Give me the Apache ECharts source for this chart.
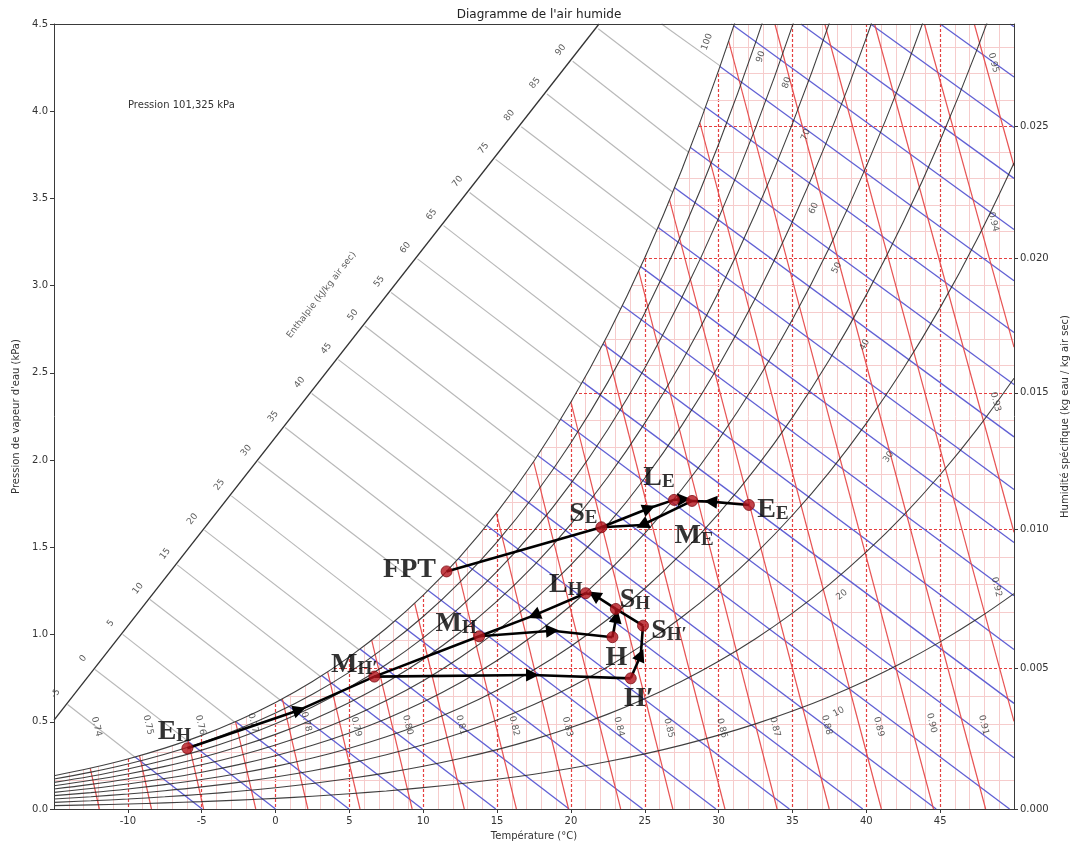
<!DOCTYPE html>
<html>
<head>
<meta charset="utf-8">
<title>Diagramme de l'air humide</title>
<script src="https://cdn.jsdelivr.net/npm/echarts@6/dist/echarts.min.js"></script>
<style>
  html, body { margin: 0; padding: 0; background: #fff; }
  #chart { width: 1078px; height: 848px; }
</style>
</head>
<body>
<div id="chart"></div>
<script>
// saturation curve (100 %), every 2.5 °C
const satTemps = [-15, -12.5, -10, -7.5, -5, -2.5, 0, 2.5, 5, 7.5, 10, 12.5, 15, 17.5, 20, 22.5, 25, 27.5, 30, 32.5, 35, 37.5, 40, 42.5, 45, 47.5, 50]
const satPressure = [0.191, 0.235, 0.287, 0.349, 0.422, 0.509, 0.611, 0.731, 0.872, 1.036, 1.226, 1.447, 1.702, 1.995, 2.333, 2.719, 3.160, 3.663, 4.234, 4.881, 5.613, 6.438, 7.368, 8.411, 9.580, 10.887, 12.345]

// relative humidity curves and their labels
const rhLevels = [10, 20, 30, 40, 50, 60, 70, 80, 90, 100]
const rhLabelTemps = [38.13, 38.34, 41.51, 39.89, 38.0, 36.44, 35.9, 34.62, 32.86, 29.21]
const rhLabelPressure = [0.556, 1.227, 2.018, 2.661, 3.102, 3.444, 3.865, 4.163, 4.312, 4.398]
const rhLabelAngles = [28, 38, 56, 61, 64, 67, 69, 71, 71, 70]

// enthalpy lines (kJ/kg air sec): start on the diagonal scale (or top edge), hit the saturation curve, end on bottom / right edge
const enthalpyValues = [-5, 0, 5, 10, 15, 20, 25, 30, 35, 40, 45, 50, 55, 60, 65, 70, 75, 80, 85, 90, 95, 100, 105, 110, 115, 120, 125]
const enthalpyStartT = [-14.08, -12.22, -10.35, -8.50, -6.657, -4.81, -2.99, -1.167, 0.649, 2.451, 4.254, 6.045, 7.828, 9.611, 11.378, 13.14, 14.90, 16.64, 18.38, 20.12, 21.85, 26.14, 30.86, 35.57, 40.29, 45.01, 49.73]
const enthalpyStartP = [0.599, 0.80, 1.001, 1.2008, 1.3995, 1.5987, 1.7949, 1.9915, 2.1873, 2.3816, 2.576, 2.7692, 2.9614, 3.1537, 3.3442, 3.5342, 3.7239, 3.9115, 4.0991, 4.2866, 4.473, 4.5, 4.5, 4.5, 4.5, 4.5, 4.5]
const enthalpySatT = [-9.53, -5.97, -2.78, 0.31, 3.04, 5.66, 8.0, 10.29, 12.26, 14.23, 15.99, 17.62, 19.24, 20.71, 22.04, 23.37, 24.69, 25.82, 26.9, 27.97, 29.04, 30.1, null, null, null, null, null]
const enthalpySatP = [0.298, 0.392, 0.4985, 0.6251, 0.7598, 0.9126, 1.0714, 1.250, 1.4242, 1.6192, 1.8131, 2.0105, 2.2251, 2.4372, 2.6437, 2.8657, 3.102, 3.3177, 3.536, 3.7644, 4.0056, 4.26, null, null, null, null, null]
const enthalpyEndT = [-4.97, 0, 4.97, 9.94, 14.91, 19.88, 24.85, 29.82, 34.79, 39.76, 44.73, 49.70, 50, 50, 50, 50, 50, 50, 50, 50, 50, 50, 50, 50, 50, 50, 50]
const enthalpyEndP = [0, 0, 0, 0, 0, 0, 0, 0, 0, 0, 0, 0, 0.2943, 0.6055, 0.9148, 1.2223, 1.5278, 1.8315, 2.1333, 2.4334, 2.7315, 3.028, 3.322, 3.615, 3.907, 4.196, 4.484]
const enthalpyLabels = [-5, 0, 5, 10, 15, 20, 25, 30, 35, 40, 45, 50, 55, 60, 65, 70, 75, 80, 85, 90]
const enthalpyLabelT = [-14.89, -13.03, -11.16, -9.31, -7.47, -5.62, -3.80, -1.98, -0.16, 1.64, 3.44, 5.24, 7.02, 8.80, 10.57, 12.33, 14.09, 15.83, 17.57, 19.31]
const enthalpyLabelP = [0.662, 0.863, 1.064, 1.264, 1.463, 1.662, 1.858, 2.055, 2.250, 2.445, 2.639, 2.832, 3.024, 3.217, 3.407, 3.597, 3.787, 3.975, 4.162, 4.350]
const enthalpyScaleT = [-15, 21.9]
const enthalpyScaleP = [0.51, 4.5]

// specific volume lines (m3/kg air sec)
const volumeValues = ['0.74', '0.75', '0.76', '0.77', '0.78', '0.79', '0.80', '0.81', '0.82', '0.83', '0.84', '0.85', '0.86', '0.87', '0.88', '0.89', '0.90', '0.91', '0.92', '0.93', '0.94', '0.95']
const volumeTopT = [-12.55, -9.21, -5.92, -2.71, 0.46, 3.53, 6.51, 9.42, 12.2, 14.95, 17.47, 20.0, 22.29, 24.59, 26.68, 28.73, 30.68, 33.81, 37.19, 40.56, 43.93, 47.31]
const volumeTopP = [0.2344, 0.3054, 0.3938, 0.5011, 0.6319, 0.7865, 0.9677, 1.1794, 1.4185, 1.6962, 1.9917, 2.3326, 2.6843, 3.0838, 3.4907, 3.9345, 4.4019, 4.5, 4.5, 4.5, 4.5, 4.5]
const volumeEndT = [-11.93, -8.40, -4.87, -1.34, 2.19, 5.72, 9.25, 12.78, 16.31, 19.84, 23.37, 26.90, 30.43, 33.96, 37.49, 41.02, 44.55, 48.08, 50, 50, 50, 50]
const volumeEndP = [0, 0, 0, 0, 0, 0, 0, 0, 0, 0, 0, 0, 0, 0, 0, 0, 0, 0, 0.5023, 1.5864, 2.6473, 3.686]
const volumeLabelT = [-12.12, -8.63, -5.09, -1.53, 2.08, 5.46, 8.95, 12.56, 16.16, 19.76, 23.26, 26.64, 30.22, 33.81, 37.32, 40.84, 44.42, 47.94, 48.82, 48.75, 48.61, 48.61]
const volumeLabelP = [0.472, 0.482, 0.482, 0.493, 0.50, 0.472, 0.482, 0.482, 0.476, 0.472, 0.472, 0.464, 0.464, 0.47, 0.482, 0.472, 0.493, 0.482, 1.273, 2.334, 3.366, 4.278]

// specific humidity (right axis) ticks and their vapour pressure
const humidityTicks = ['0.000', '0.005', '0.010', '0.015', '0.020', '0.025']
const humidityTickPressure = [0, 0.808, 1.6033, 2.386, 3.1565, 3.9152]
const humidityMinorPressure = [0.1626, 0.3248, 0.4864, 0.6474, 0.9681, 1.1276, 1.2867, 1.4452, 1.7608, 1.9178, 2.0744, 2.2304,
  2.5411, 2.6957, 2.8498, 3.0034, 3.3092, 3.4614, 3.6131, 3.7644, 4.0655, 4.2154, 4.3648]

// marked states
const pointNames = ['EH', "MH'", 'MH', 'H', "H'", 'SH', "SH'", 'LH', 'FPT', 'SE', 'LE', 'ME', 'EE']
const pointTemps = [-5.97, 6.69, 13.79, 22.81, 24.05, 23.04, 24.88, 21.0, 11.58, 22.06, 26.98, 28.2, 32.05]
const pointPressure = [0.348, 0.759, 0.99, 0.985, 0.749, 1.147, 1.051, 1.237, 1.362, 1.615, 1.772, 1.766, 1.743]

// transformations: [from, to, arrow tip temperature, arrow tip pressure]
const flows = [
  ['EH', "MH'", 1.62, 0.568],
  ['LH', 'MH', 17.5, 1.11],
  ['MH', 'H', 18.75, 1.022],
  ['H', 'SH', 23.08, 1.103],
  ['SH', 'LH', 21.57, 1.227],
  ["H'", "SH'", 24.73, 0.883],
  ["MH'", "H'", 17.4, 0.768],
  ['SE', 'LE', 25.29, 1.724],
  ['LE', 'ME', 27.65, 1.776],
  ['ME', 'SE', 24.83, 1.628],
  ['EE', 'ME', 29.46, 1.762],
]
const plainLinks = [["MH'", 'MH'], ['SH', "SH'"], ['FPT', 'SE']]

// label placement around the points (pixels)
const labelOffsets = {
  'EH': [-13, -17], "MH'": [-20, -12], 'MH': [-23, -13], 'H': [4, 21], "H'": [8, 20],
  'SH': [19, -9], "SH'": [26, 5], 'LH': [-20, -8], 'FPT': [-37, -2], 'SE': [-18, -14],
  'LE': [-15, -22], 'ME': [2, 35], 'EE': [24, 5]
}

const FONT = 'DejaVu Sans'
const GRID_RED = '#e43f3f'
const GRID_PINK = '#f6cccc'

const pos = name => {
  const i = pointNames.indexOf(name)
  return [pointTemps[i], pointPressure[i]]
}

function richName(name) {
  if (name === 'FPT') return '{big|FPT}'
  const n = name.replace("'", '\u2032')
  if (n.length === 1 || n === 'H\u2032') return '{big|' + n + '}'
  return '{big|' + n[0] + '}{small|' + n.slice(1) + '}'
}

const chart = echarts.init(document.getElementById('chart'))

const rhSeries = rhLevels.map(r => ({
  type: 'line',
  data: satTemps.map((t, i) => [t, satPressure[i] * r / 100]),
  smooth: 0.4,
  symbol: 'none',
  silent: true,
  z: 4,
  lineStyle: { color: '#2b2b2b', width: 1.1, opacity: 0.9 },
}))

const greyLines = []
const blueLines = []
enthalpyValues.forEach((h, i) => {
  const start = [enthalpyStartT[i], enthalpyStartP[i]]
  blueLines.push({ coords: [start, [enthalpyEndT[i], enthalpyEndP[i]]] })
  if (enthalpySatT[i] !== null) {
    greyLines.push({ coords: [start, [enthalpySatT[i], enthalpySatP[i]]] })
  }
})

const redLines = volumeValues.map((v, i) => ({
  coords: [[volumeTopT[i], volumeTopP[i]], [volumeEndT[i], volumeEndP[i]]]
}))

const majorRows = humidityTickPressure.slice(1).map(p => ({ coords: [[-15, p], [50, p]] }))
const minorRows = humidityMinorPressure.map(p => ({ coords: [[-15, p], [50, p]] }))

const arrowParts = flows.map(f => ({ coords: [pos(f[0]), [f[2], f[3]]] }))
const tailParts = flows.map(f => ({ coords: [[f[2], f[3]], pos(f[1])] }))
  .concat(plainLinks.map(l => ({ coords: [pos(l[0]), pos(l[1])] })))

const textLayer = (data, extra) => Object.assign({
  type: 'scatter',
  data: data,
  symbolSize: 1,
  silent: true,
  z: 6,
  itemStyle: { color: 'rgba(0,0,0,0)' },
  label: {
    show: true, position: 'inside', formatter: '{b}',
    fontFamily: FONT, fontSize: 9, color: '#333'
  }
}, extra)

const option = {
  animation: false,
  backgroundColor: '#fff',
  title: {
    text: "Diagramme de l'air humide",
    left: 'center', top: 4,
    textStyle: { fontFamily: FONT, fontSize: 12, fontWeight: 'normal', color: '#222' }
  },
  graphic: [{
    type: 'text', left: 128, top: 100, z: 10,
    style: { text: 'Pression 101,325 kPa', fontFamily: FONT, fontSize: 10, fill: '#333' }
  }],
  grid: { left: 54, right: 62, top: 24, bottom: 39 },
  xAxis: [{
    type: 'value', min: -15, max: 50, interval: 5,
    name: 'Température (°C)', nameLocation: 'middle', nameGap: 22,
    nameTextStyle: { fontFamily: FONT, fontSize: 10, color: '#333' },
    axisLine: { show: true, onZero: false, lineStyle: { color: '#3a3a3a' } },
    axisTick: { show: true, length: 4, lineStyle: { color: '#3a3a3a' } },
    axisLabel: { fontFamily: FONT, fontSize: 10, color: '#333', margin: 7, showMinLabel: false, showMaxLabel: false },
    splitLine: { show: true, showMinLine: false, showMaxLine: false, lineStyle: { color: GRID_RED, width: 1.2, type: [3, 2] } },
    minorTick: { show: false, splitNumber: 5 },
    minorSplitLine: { show: true, lineStyle: { color: GRID_PINK, width: 1 } }
  }, {
    type: 'value', min: -15, max: 50, position: 'top', z: 10,
    axisLine: { show: true, onZero: false, lineStyle: { color: '#3a3a3a' } },
    axisTick: { show: false }, axisLabel: { show: false }, splitLine: { show: false }
  }],
  yAxis: [{
    type: 'value', min: 0, max: 4.5, interval: 0.5, z: 10,
    name: "Pression de vapeur d'eau (kPa)", nameLocation: 'middle', nameGap: 32, nameRotate: 90,
    nameTextStyle: { fontFamily: FONT, fontSize: 10, color: '#333' },
    axisLine: { show: true, onZero: false, lineStyle: { color: '#3a3a3a' } },
    axisTick: { show: true, length: 4, lineStyle: { color: '#3a3a3a' } },
    axisLabel: { fontFamily: FONT, fontSize: 10, color: '#333', margin: 6, formatter: v => v.toFixed(1) },
    splitLine: { show: false }
  }, {
    type: 'value', min: 0, max: 4.5, position: 'right', z: 10,
    name: 'Humidité spécifique (kg eau / kg air sec)', nameLocation: 'middle', nameGap: 46, nameRotate: 90,
    nameTextStyle: { fontFamily: FONT, fontSize: 10, color: '#333' },
    axisLine: { show: true, onZero: false, lineStyle: { color: '#3a3a3a' } },
    axisTick: { show: true, length: 4, customValues: humidityTickPressure, lineStyle: { color: '#3a3a3a' } },
    axisLabel: {
      fontFamily: FONT, fontSize: 10, color: '#333', margin: 6,
      customValues: humidityTickPressure,
      formatter: v => {
        let best = 0
        humidityTickPressure.forEach((p, i) => { if (Math.abs(p - v) < Math.abs(humidityTickPressure[best] - v)) best = i })
        return humidityTicks[best]
      }
    },
    splitLine: { show: false }
  }],
  series: [
    // grid rows of specific humidity
    { type: 'lines', coordinateSystem: 'cartesian2d', silent: true, z: 1, data: minorRows,
      lineStyle: { color: GRID_PINK, width: 1, opacity: 1 } },
    { type: 'lines', coordinateSystem: 'cartesian2d', silent: true, z: 1, data: majorRows,
      lineStyle: { color: GRID_RED, width: 1.2, type: [3, 2], opacity: 1 } },
    // enthalpy (blue) and specific volume (red) inside the humid-air domain
    { type: 'lines', coordinateSystem: 'cartesian2d', silent: true, z: 1, data: blueLines,
      lineStyle: { color: '#5757d2', width: 1.3, opacity: 0.95 } },
    { type: 'lines', coordinateSystem: 'cartesian2d', silent: true, z: 1, data: redLines,
      lineStyle: { color: '#e64a4a', width: 1.2, opacity: 0.95 } },
    // blank region above saturation
    { type: 'line', data: satTemps.map((t, i) => [t, satPressure[i]]), smooth: 0.4,
      symbol: 'none', silent: true, z: 2, lineStyle: { width: 0 },
      areaStyle: { color: '#ffffff', opacity: 1, origin: 'end' } },
    // enthalpy lines outside the domain + their scale
    { type: 'lines', coordinateSystem: 'cartesian2d', silent: true, z: 3, data: greyLines,
      lineStyle: { color: '#b9b9b9', width: 1.2, opacity: 1 } },
    { type: 'lines', coordinateSystem: 'cartesian2d', silent: true, z: 4,
      data: [{ coords: [[enthalpyScaleT[0], enthalpyScaleP[0]], [enthalpyScaleT[1], enthalpyScaleP[1]]] }],
      lineStyle: { color: '#333', width: 1.3, opacity: 1 } },
    ...rhSeries,
    // labels
    textLayer(enthalpyLabels.map((h, i) => ({ name: String(h), value: [enthalpyLabelT[i], enthalpyLabelP[i]] })),
      { label: { show: true, position: 'inside', formatter: '{b}', rotate: 52, fontFamily: FONT, fontSize: 9, color: '#333' } }),
    textLayer([{ name: 'Enthalpie (kJ/kg air sec)', value: [3.11, 2.947] }],
      { label: { show: true, position: 'inside', formatter: '{b}', rotate: 52, fontFamily: FONT, fontSize: 9, color: '#333' } }),
    textLayer(rhLevels.map((r, i) => ({
      name: String(r), value: [rhLabelTemps[i], rhLabelPressure[i]], label: { rotate: rhLabelAngles[i] }
    }))),
    textLayer(volumeValues.map((v, i) => ({ name: v, value: [volumeLabelT[i], volumeLabelP[i]] })),
      { label: { show: true, position: 'inside', formatter: '{b}', rotate: -76, fontFamily: FONT, fontSize: 9, color: '#333' } }),
    // process paths
    { type: 'lines', coordinateSystem: 'cartesian2d', silent: true, z: 8, data: tailParts,
      lineStyle: { color: '#000', width: 2.6, opacity: 1 } },
    { type: 'lines', coordinateSystem: 'cartesian2d', silent: true, z: 8, data: arrowParts,
      symbol: ['none', 'triangle'], symbolSize: [10, 13],
      lineStyle: { color: '#000', width: 2.6, opacity: 1 } },
    {
      type: 'scatter', z: 9, silent: true,
      data: pointNames.map((n, i) => ({
        name: n, value: [pointTemps[i], pointPressure[i]],
        label: { offset: labelOffsets[n] }
      })),
      symbolSize: 11,
      itemStyle: { color: '#b3131c', borderColor: '#7d0b12', borderWidth: 1 },
      label: {
        show: true, position: 'inside',
        formatter: p => richName(p.name),
        rich: {
          big: { fontFamily: 'Liberation Serif', fontWeight: 'bold', fontSize: 28, color: '#000', lineHeight: 28, verticalAlign: 'bottom' },
          small: { fontFamily: 'Liberation Serif', fontWeight: 'bold', fontSize: 19, color: '#000', lineHeight: 19, verticalAlign: 'bottom' }
        }
      }
    }
  ]
}

chart.setOption(option)
</script>
</body>
</html>
